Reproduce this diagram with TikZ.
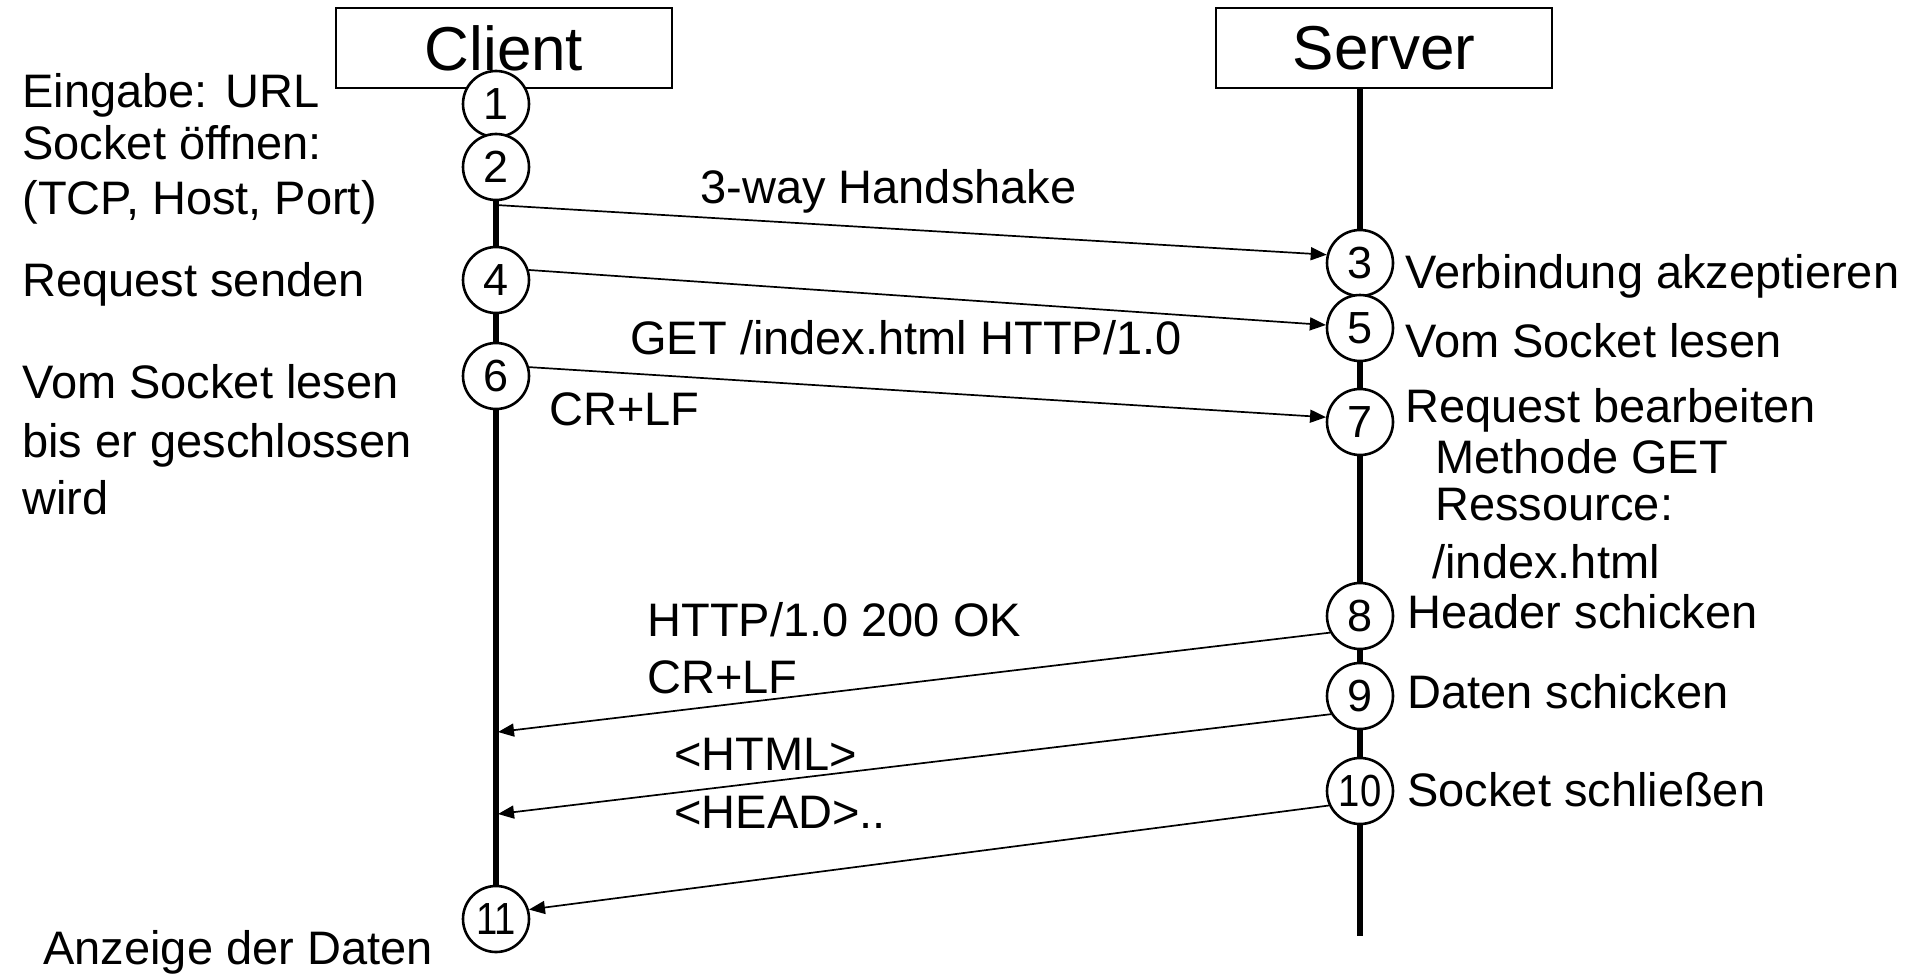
\documentclass[tikz,border=0pt]{standalone}
\usepackage{fontspec}
\usepackage{graphicx}
\setmainfont{Liberation Sans}
\usetikzlibrary{arrows.meta}

\tikzset{
  party/.style={draw, line width=0.85pt, minimum width=168pt, minimum height=40pt, inner sep=0pt, font=\fontsize{31}{36}\selectfont},
  stepnum/.style={circle, draw, fill=white, line width=1.3pt, minimum size=33pt, inner sep=0pt, font=\fontsize{22.5}{26}\selectfont},
  lifeline/.style={line width=2.6pt},
  msg/.style={line width=0.85pt, -{Triangle[length=8pt,width=6.5pt]}},
  txt/.style={anchor=base west, inner sep=0pt, font=\fontsize{23.5}{28}\selectfont},
}
\newcommand{\twodig}[1]{\scalebox{0.85}[1]{#1}}

\begin{document}
\begin{tikzpicture}[x=0.5pt, y=-0.5pt]
    \useasboundingbox (0,0) rectangle (1915,974);

    % Boxes
    \node[party] (client) at (504,48) {Client};
    \node[party] (server) at (1384,48) {Server};

    % Lifelines
    \coordinate (cend) at (496,919);
    \coordinate (send) at (1360,936);
    \draw[lifeline] (client.south -| cend) -- (cend);
    \draw[lifeline] (server.south -| send) -- (send);

    % Steps
    \node[stepnum] (c1) at (496,104) {1};
    \node[stepnum] (c2) at (496,167) {2};
    \node[stepnum] (c4) at (496,280) {4};
    \node[stepnum] (c6) at (496,376) {6};
    \node[stepnum] (c11) at (496,919) {\twodig{11}};
    \node[stepnum] (c3) at (1360,263) {3};
    \node[stepnum] (c5) at (1360,328) {5};
    \node[stepnum] (c7) at (1360,422) {7};
    \node[stepnum] (c8) at (1360,616) {8};
    \node[stepnum] (c9) at (1360,696) {9};
    \node[stepnum] (c10) at (1360,791) {\twodig{10}};

    % Messages
    \coordinate (hs) at (496,205);
    \coordinate (r8) at (498,732);
    \coordinate (r9) at (498,814);
    \draw[msg] (hs) -- (c3.166);
    \draw[msg] (c4.17) -- (c5.175);
    \draw[msg] (c6.15) -- (c7.172);
    \draw[msg] (c8.209) -- (r8);
    \draw[msg] (c9.212) -- (r9);
    \draw[msg] (c10.205) -- (c11.16);

    % Message labels
    \node[txt] (m1) at (700,203) {3-way Handshake};
    \node[txt] (m2) at (630,354) {GET /index.html HTTP/1.0};
    \node[txt] (m3) at (549,425) {CR+LF};
    \node[txt] (m4) at (647,636) {HTTP/1.0 200 OK};
    \node[txt] (m5) at (647,693) {CR+LF};
    \node[txt] (m6) at (674,770) {<HTML>};
    \node[txt] (m7) at (674,828) {<HEAD>..};

    % Client side
    \node[txt] (l1) at (22,107) {Eingabe: URL};
    \node[txt] (l2) at (22,159) {Socket öffnen:};
    \node[txt] (l3) at (22,214) {(TCP, Host, Port)};
    \node[txt] (l4) at (22,296) {Request senden};
    \node[txt] (l5) at (22,398) {Vom Socket lesen};
    \node[txt] (l6) at (22,457) {bis er geschlossen};
    \node[txt] (l7) at (22,514) {wird};
    \node[txt] (l8) at (43,964) {Anzeige der Daten};

    % Server side
    \node[txt] (s1) at (1405,288) {Verbindung akzeptieren};
    \node[txt] (s2) at (1405,357) {Vom Socket lesen};
    \node[txt] (s3) at (1405,422) {Request bearbeiten};
    \node[txt] (s4) at (1435,473) {Methode GET};
    \node[txt] (s5) at (1435,520) {Ressource:};
    \node[txt] (s6) at (1432,578) {/index.html};
    \node[txt] (s7) at (1407,628) {Header schicken};
    \node[txt] (s8) at (1407,708) {Daten schicken};
    \node[txt] (s9) at (1407,806) {Socket schließen};
\end{tikzpicture}
\end{document}
